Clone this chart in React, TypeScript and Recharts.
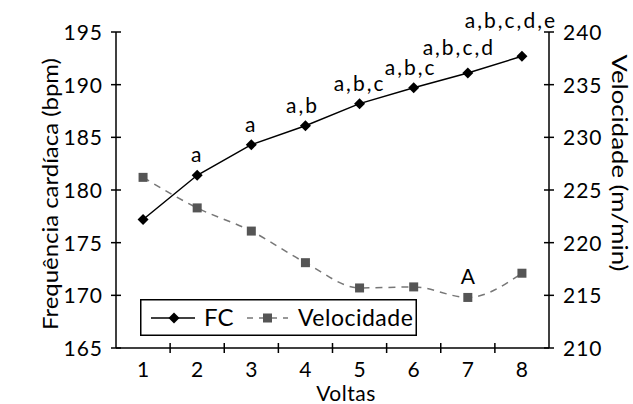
import React from 'react';
import { ComposedChart, Line, XAxis, YAxis, Legend, LabelList, Label } from 'recharts';

const voltas = [1, 2, 3, 4, 5, 6, 7, 8];
const fc = [177.2, 181.4, 184.3, 186.1, 188.2, 189.7, 191.1, 192.7];
const velocidade = [226.2, 223.3, 221.1, 218.1, 215.7, 215.8, 214.8, 217.1];
const fcLabels = ['', 'a', 'a', 'a,b', 'a,b,c', 'a,b,c', 'a,b,c,d', 'a,b,c,d,e'];
const velLabels = ['', '', '', '', '', '', 'A', ''];
const leftTicks = [165, 170, 175, 180, 185, 190, 195];
const rightTicks = [210, 215, 220, 225, 230, 235, 240];
const xTicks = voltas.flatMap((v, i) => (i === 0 ? [v] : [v - 0.5, v]));

const data = voltas.map((v, i) => ({
  volta: v,
  fc: fc[i],
  vel: velocidade[i],
  fcLabel: fcLabels[i],
  velLabel: velLabels[i],
}));

const FONT = 'Lato';
const WEIGHT = 400;
const INK = '#000';
const VEL_LINE = '#777';
const VEL_MARK = '#555';

const fcLabelShift = [
  [0, 0], [0, 0], [0, 0], [-3, 0], [0, 0], [-3, 0], [-9, -5], [-11, -15],
];

const XTick = (props: any) => {
  const { x, y, payload } = props;
  const v = payload.value;
  if (Number.isInteger(v)) {
    return (
      <text x={x} y={y + 29} textAnchor="middle" fontFamily={FONT} fontWeight={WEIGHT} fontSize={21} fill={INK}>
        {v}
      </text>
    );
  }
  return <line x1={x} x2={x} y1={y - 5} y2={y + 5} stroke={INK} strokeWidth={1.5} />;
};

const LeftTick = (props: any) => {
  const { x, y, payload } = props;
  return (
    <g>
      <line x1={x - 5} x2={x + 5} y1={y} y2={y} stroke={INK} strokeWidth={1.5} />
      <text x={x - 13} y={y + 8} textAnchor="end" fontFamily={FONT} fontWeight={WEIGHT} fontSize={21} letterSpacing={1} fill={INK}>
        {payload.value}
      </text>
    </g>
  );
};

const RightTick = (props: any) => {
  const { x, y, payload } = props;
  return (
    <g>
      <line x1={x - 5} x2={x + 5} y1={y} y2={y} stroke={INK} strokeWidth={1.5} />
      <text x={x + 14} y={y + 8} textAnchor="start" fontFamily={FONT} fontWeight={WEIGHT} fontSize={21} letterSpacing={1} fill={INK}>
        {payload.value}
      </text>
    </g>
  );
};

const Diamond = (props: any) => {
  const { cx, cy } = props;
  if (cx == null || cy == null) return null;
  const r = 5.5;
  return (
    <polygon
      points={`${cx},${cy - r} ${cx + r},${cy} ${cx},${cy + r} ${cx - r},${cy}`}
      fill={INK}
    />
  );
};

const Square = (props: any) => {
  const { cx, cy } = props;
  if (cx == null || cy == null) return null;
  const s = 9;
  return <rect x={cx - s / 2} y={cy - s / 2} width={s} height={s} fill={VEL_MARK} />;
};

const FcLabel = (props: any) => {
  const { x, y, value, index } = props;
  if (!value) return null;
  const [dx, dy] = fcLabelShift[index] || [0, 0];
  return (
    <text x={x + dx} y={y - 13 + dy} textAnchor="middle" fontFamily={FONT} fontWeight={WEIGHT} fontSize={21} letterSpacing={2} fill={INK}>
      {value}
    </text>
  );
};

const VelLabel = (props: any) => {
  const { x, y, value } = props;
  if (!value) return null;
  return (
    <text x={x} y={y - 13} textAnchor="middle" fontFamily={FONT} fontWeight={WEIGHT} fontSize={21} fill={INK}>
      {value}
    </text>
  );
};

const LegendBox = () => (
  <svg width={277} height={37} style={{ display: 'block' }}>
    <rect x={0.75} y={0.75} width={275.5} height={35.5} fill="#fff" stroke={INK} strokeWidth={1.5} />
    <line x1={11} x2={55} y1={19} y2={19} stroke={INK} strokeWidth={1.5} />
    <polygon points="34,13.5 39.5,19 34,24.5 28.5,19" fill={INK} />
    <text x={64} y={27} fontFamily={FONT} fontWeight={WEIGHT} fontSize={24} fill={INK}>FC</text>
    <line x1={107} x2={148} y1={19} y2={19} stroke={VEL_LINE} strokeWidth={1.5} strokeDasharray="6 6" />
    <rect x={123} y={14.5} width={9} height={9} fill={VEL_MARK} />
    <text x={158} y={27} fontFamily={FONT} fontWeight={WEIGHT} fontSize={23} letterSpacing={0.5} fill={INK}>Velocidade</text>
  </svg>
);

export default function App() {
  return (
    <div style={{ position: 'absolute', left: 0, top: 0, width: 633, height: 404, background: '#fff' }}>
      <ComposedChart width={633} height={404} data={data} margin={{ top: 32, right: 0, bottom: 0, left: 0 }}>
        <XAxis
          dataKey="volta"
          type="number"
          domain={[0.5, 8.5]}
          ticks={xTicks}
          interval={0}
          height={56}
          tickSize={0}
          tickMargin={0}
          tickLine={false}
          axisLine={{ stroke: INK, strokeWidth: 1.5 }}
          tick={<XTick />}
        >
          <Label
            content={() => (
              <text x={346} y={401} textAnchor="middle" fontFamily={FONT} fontWeight={WEIGHT} fontSize={21} letterSpacing={0.5} fill={INK}>
                Voltas
              </text>
            )}
          />
        </XAxis>
        <YAxis
          yAxisId="left"
          orientation="left"
          domain={[165, 195]}
          ticks={leftTicks}
          interval={0}
          width={116}
          tickSize={0}
          tickMargin={0}
          tickLine={false}
          axisLine={{ stroke: INK, strokeWidth: 1.5 }}
          tick={<LeftTick />}
        >
          <Label
            content={() => (
              <text
                x={49}
                y={194}
                transform="rotate(-90 49 194)"
                textAnchor="middle"
                dominantBaseline="central"
                fontFamily={FONT}
                fontWeight={WEIGHT}
                fontSize={22}
                textLength={272}
                lengthAdjust="spacingAndGlyphs"
                fill={INK}
              >
                Frequência cardíaca (bpm)
              </text>
            )}
          />
        </YAxis>
        <YAxis
          yAxisId="right"
          orientation="right"
          domain={[210, 240]}
          ticks={rightTicks}
          interval={0}
          width={84}
          tickSize={0}
          tickMargin={0}
          tickLine={false}
          axisLine={{ stroke: INK, strokeWidth: 1.5 }}
          tick={<RightTick />}
        >
          <Label
            content={() => (
              <text
                x={620}
                y={163}
                transform="rotate(90 620 163)"
                textAnchor="middle"
                dominantBaseline="central"
                fontFamily={FONT}
                fontWeight={WEIGHT}
                fontSize={21}
                textLength={217}
                lengthAdjust="spacingAndGlyphs"
                fill={INK}
              >
                Velocidade (m/min)
              </text>
            )}
          />
        </YAxis>
        <Line
          yAxisId="right"
          dataKey="vel"
          stroke={VEL_LINE}
          strokeWidth={1.5}
          strokeDasharray="7 6"
          dot={<Square />}
          activeDot={false}
          isAnimationActive={false}
          type="monotone"
        >
          <LabelList dataKey="velLabel" content={<VelLabel />} />
        </Line>
        <Line
          yAxisId="left"
          dataKey="fc"
          stroke={INK}
          strokeWidth={1.5}
          dot={<Diamond />}
          activeDot={false}
          isAnimationActive={false}
          type="linear"
        >
          <LabelList dataKey="fcLabel" content={<FcLabel />} />
        </Line>
        <Legend
          layout="vertical"
          verticalAlign="middle"
          align="center"
          content={() => <LegendBox />}
          wrapperStyle={{ position: 'absolute', left: 140, top: 299, width: 277, height: 37 }}
        />
      </ComposedChart>
    </div>
  );
}
